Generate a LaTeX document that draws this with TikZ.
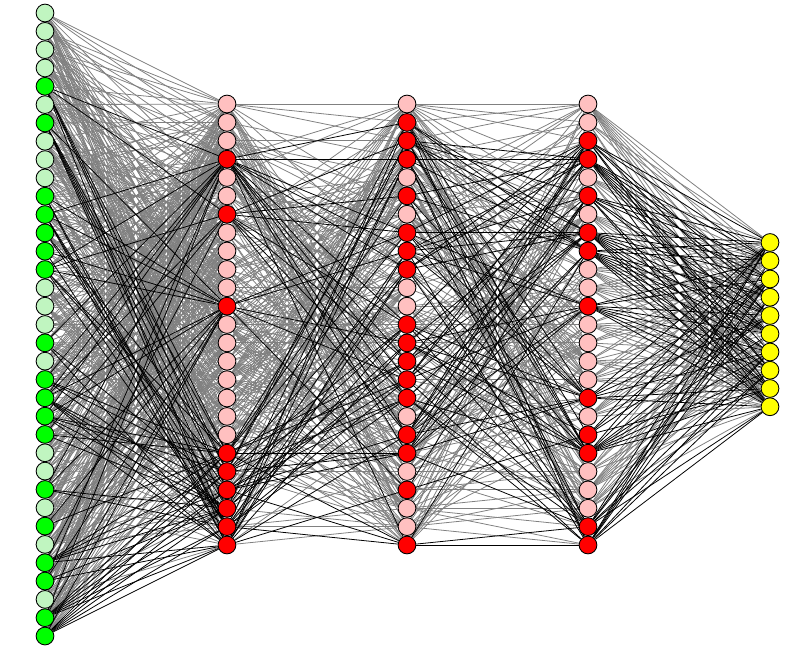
\documentclass[tikz,border=0pt]{standalone}
\usepackage{tikz}
\usetikzlibrary{backgrounds}
\definecolor{inlight}{HTML}{C0F5C0}
\definecolor{inon}{HTML}{00FF00}
\definecolor{hidlight}{HTML}{FFC0C0}
\definecolor{hidon}{HTML}{FF0000}
\definecolor{outcol}{HTML}{FFFF00}
\definecolor{wiregrey}{HTML}{808080}
\def\actin{{0,0,0,0,1,0,1,0,0,0,1,1,1,1,1,0,0,0,1,0,1,1,1,1,0,0,1,0,1,0,1,1,0,1,1}}
\def\acta{{0,0,0,1,0,0,1,0,0,0,0,1,0,0,0,0,0,0,0,1,1,1,1,1,1}}
\def\actb{{0,1,1,1,0,1,0,1,1,1,0,0,1,1,1,1,1,0,1,1,0,1,0,0,1}}
\def\actc{{0,0,1,1,0,1,0,1,1,0,0,1,0,0,0,0,1,0,1,1,0,0,0,1,1}}
\def\actout{{1,1,1,1,1,1,1,1,1,1}}
\newcommand{\wire}[8]{%
  \foreach \i in {0,...,#2}{
    \pgfmathtruncatemacro\on{#5[\i]}
    \foreach \j in {0,...,#4}{
      \pgfmathtruncatemacro\keep{rnd<#7}
      \pgfmathtruncatemacro\both{\on*#6[\j]}
      \ifnum\keep=1
        \ifnum\both=#8
          \ifnum\both=1 \draw[bwire] (#1\i) -- (#3\j);
          \else \draw[gwire] (#1\i) -- (#3\j);
          \fi
        \fi
      \fi
    }
  }
}
\newcommand{\allwires}[1]{%
  \pgfmathsetseed{1234}
  \wire{in}{34}{ha}{24}{\actin}{\acta}{0.55}{#1}
  \wire{ha}{24}{hb}{24}{\acta}{\actb}{0.45}{#1}
  \wire{hb}{24}{hc}{24}{\actb}{\actc}{0.45}{#1}
  \wire{hc}{24}{out}{9}{\actc}{\actout}{0.8}{#1}
}

\begin{document}
\begin{tikzpicture}[
  x=0.02cm,y=-0.02cm,
  unit/.style={circle,draw=black,line width=0.5pt,inner sep=0pt,minimum size=0.355cm},
  gwire/.style={wiregrey,line width=0.45pt},
  bwire/.style={black,line width=0.45pt},
]
\useasboundingbox (0,0) rectangle (803,653);

\foreach \i in {0,...,34}{
  \pgfmathtruncatemacro\on{\actin[\i]}
  \ifnum\on=1 \def\fc{inon}\else\def\fc{inlight}\fi
  \node[unit,fill=\fc] (in\i) at (45,{13+18.324*\i}) {};
}
\foreach \i in {0,...,24}{
  \pgfmathtruncatemacro\on{\acta[\i]}
  \ifnum\on=1 \def\fc{hidon}\else\def\fc{hidlight}\fi
  \node[unit,fill=\fc] (ha\i) at (227,{104+18.375*\i}) {};
  \pgfmathtruncatemacro\on{\actb[\i]}
  \ifnum\on=1 \def\fc{hidon}\else\def\fc{hidlight}\fi
  \node[unit,fill=\fc] (hb\i) at (407,{104+18.375*\i}) {};
  \pgfmathtruncatemacro\on{\actc[\i]}
  \ifnum\on=1 \def\fc{hidon}\else\def\fc{hidlight}\fi
  \node[unit,fill=\fc] (hc\i) at (588,{104+18.375*\i}) {};
}
\foreach \i in {0,...,9}
  \node[unit,fill=outcol] (out\i) at (770,{242.5+18.25*\i}) {};

\begin{pgfonlayer}{background}
  \allwires{0}
  \allwires{1}
\end{pgfonlayer}
\end{tikzpicture}
\end{document}
